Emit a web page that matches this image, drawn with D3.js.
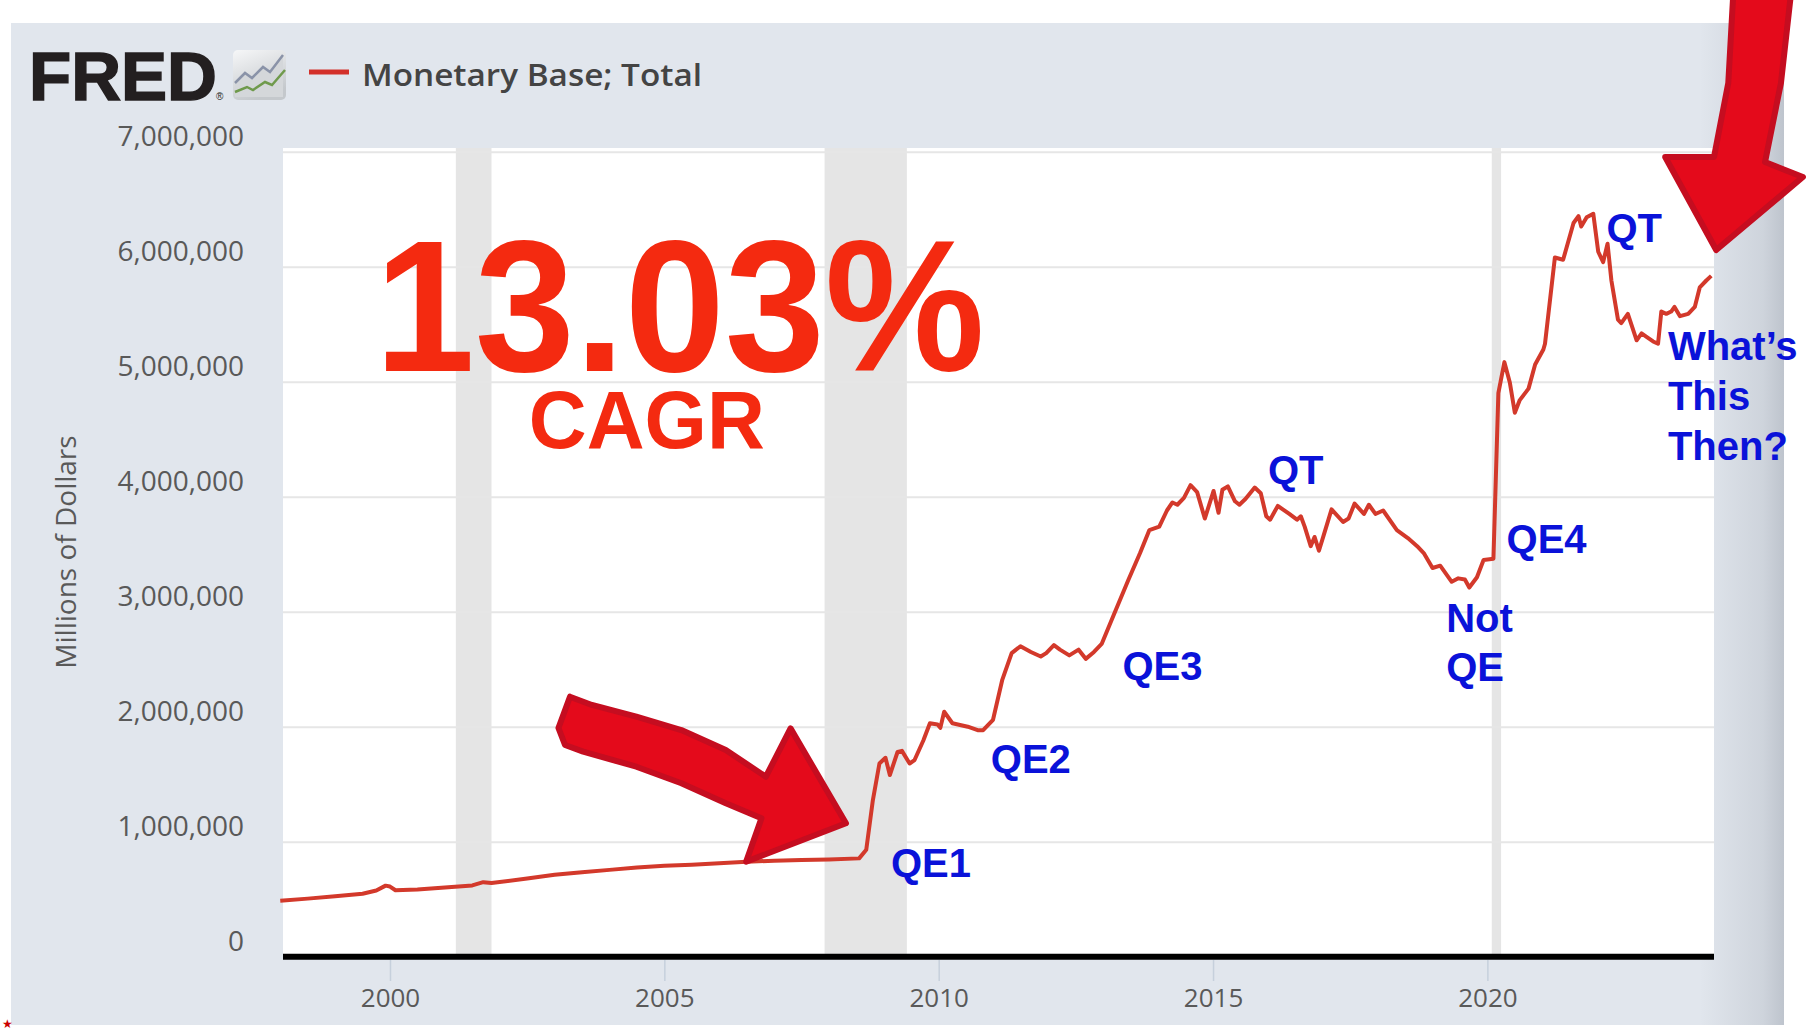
<!DOCTYPE html>
<html>
<head>
  <meta charset="utf-8">
  <title>Monetary Base; Total</title>
  <script src="https://d3js.org/d3.v7.min.js"></script>
  <style>
    body { margin: 0; background: #fff; overflow: hidden; }
    /* grey gridlines, no domain line */
    .gridlines line { stroke: #e6e6e6; stroke-width: 2; }
    .gridlines .domain { stroke: none; }
    .y.axis .domain, .x.axis .domain { stroke: none; }
    .y.axis text { font-family: "Open Sans", sans-serif; font-size: 28px; fill: #595959; }
    .x.axis text { font-family: "Open Sans", sans-serif; font-size: 26px; fill: #595959; }
    .x.axis line { stroke: #c6d0dc; stroke-width: 1.5; }
    .note { font-family: "Liberation Sans", Arial, sans-serif; font-weight: bold; }
  </style>
</head>
<body>
  <svg id="chart" width="1810" height="1030"></svg>

  <script>
    // Monetary Base; Total (millions of dollars), decimal years
    const years = [
      1998.00, 1998.50, 1999.00, 1999.50, 1999.75, 1999.92, 2000.00, 2000.10, 2000.50, 2001.00,
      2001.50, 2001.70, 2001.85, 2002.50, 2003.00, 2003.50, 2004.00, 2004.50, 2005.00, 2005.50,
      2006.00, 2006.50, 2007.00, 2007.50, 2008.00, 2008.55, 2008.68, 2008.80, 2008.92, 2009.03,
      2009.11, 2009.25, 2009.33, 2009.47, 2009.56, 2009.72, 2009.84, 2009.98, 2010.03, 2010.10,
      2010.25, 2010.53, 2010.71, 2010.81, 2010.99, 2011.16, 2011.33, 2011.49, 2011.68, 2011.86,
      2011.96, 2012.10, 2012.21, 2012.38, 2012.55, 2012.68, 2012.83, 2012.97, 2013.18, 2013.46,
      2013.67, 2013.84, 2014.02, 2014.16, 2014.26, 2014.35, 2014.47, 2014.59, 2014.71, 2014.85,
      2015.01, 2015.10, 2015.17, 2015.27, 2015.40, 2015.48, 2015.59, 2015.76, 2015.87, 2015.97,
      2016.04, 2016.18, 2016.39, 2016.53, 2016.60, 2016.67, 2016.78, 2016.85, 2016.93, 2017.02,
      2017.16, 2017.37, 2017.47, 2017.58, 2017.75, 2017.84, 2017.96, 2018.10, 2018.35, 2018.55,
      2018.72, 2018.84, 2019.00, 2019.14, 2019.35, 2019.47, 2019.59, 2019.67, 2019.81, 2019.93,
      2020.11, 2020.20, 2020.31, 2020.41, 2020.50, 2020.59, 2020.75, 2020.87, 2021.02, 2021.05,
      2021.23, 2021.38, 2021.57, 2021.66, 2021.71, 2021.81, 2021.93, 2022.02, 2022.11, 2022.19,
      2022.26, 2022.38, 2022.44, 2022.56, 2022.72, 2022.81, 2022.90, 2023.02, 2023.11, 2023.17,
      2023.26, 2023.35, 2023.41, 2023.51, 2023.66, 2023.78, 2023.87, 2023.99, 2024.08
    ];
    const base = [
      487000, 505000, 525000, 548000, 575000, 618000, 610000, 578000, 585000, 602000,
      620000, 648000, 640000, 680000, 712000, 735000, 755000, 775000, 790000, 800000,
      812000, 825000, 835000, 840000, 845000, 855000, 930000, 1360000, 1680000, 1730000,
      1580000, 1780000, 1790000, 1680000, 1710000, 1880000, 2030000, 2020000, 1990000, 2130000,
      2030000, 2000000, 1970000, 1970000, 2060000, 2410000, 2640000, 2700000, 2650000, 2610000,
      2640000, 2710000, 2670000, 2620000, 2670000, 2590000, 2650000, 2720000, 2960000, 3280000,
      3510000, 3710000, 3740000, 3880000, 3950000, 3930000, 3990000, 4100000, 4040000, 3810000,
      4050000, 3860000, 4060000, 4090000, 3960000, 3930000, 3980000, 4080000, 4030000, 3830000,
      3800000, 3920000, 3850000, 3800000, 3830000, 3740000, 3570000, 3650000, 3530000, 3670000,
      3890000, 3780000, 3810000, 3940000, 3850000, 3930000, 3850000, 3880000, 3710000, 3640000,
      3570000, 3510000, 3380000, 3400000, 3260000, 3290000, 3280000, 3210000, 3300000, 3450000,
      3460000, 4900000, 5170000, 4990000, 4730000, 4840000, 4940000, 5150000, 5280000, 5330000,
      6080000, 6060000, 6380000, 6440000, 6350000, 6430000, 6460000, 6130000, 6040000, 6200000,
      5880000, 5540000, 5510000, 5590000, 5360000, 5420000, 5390000, 5350000, 5330000, 5610000,
      5590000, 5610000, 5650000, 5570000, 5590000, 5650000, 5820000, 5880000, 5920000
    ];

    // recession shading [start, end]
    const recessions = [[2001.20, 2001.85], [2007.92, 2009.42], [2020.08, 2020.25]];

    const xTicks = [2000, 2005, 2010, 2015, 2020];
    const yTicks = [0, 1000000, 2000000, 3000000, 4000000, 5000000, 6000000, 7000000];

    // hand-drawn notes, anchored in data units [year, dollars]
    const blueNotes = [
      { text: "QE1", at: [2009.13, 696000] },
      { text: "QE2", at: [2010.95, 1595000] },
      { text: "QE3", at: [2013.35, 2406000] },
      { text: "QT", at: [2016.00, 4110000] },
      { text: "Not", at: [2019.25, 2823000] },
      { text: "QE", at: [2019.25, 2397000] },
      { text: "QE4", at: [2020.35, 3508000] },
      { text: "QT", at: [2022.17, 6217000] },
      { text: "What’s", at: [2023.29, 5189000] },
      { text: "This", at: [2023.29, 4754000] },
      { text: "Then?", at: [2023.29, 4319000] }
    ];
    const redNotes = [
      { text: "13.03%", at: [1999.72, 5093000], size: 188, len: 610 },
      { text: "CAGR", at: [2002.53, 4423000], size: 81, len: 236 }
    ];

    // marker arrows outlines [year, dollars]
    const arrowLow = [
      [2003.28, 2261000], [2003.68, 2189000], [2004.49, 2087000], [2005.31, 1971000],
      [2006.12, 1797000], [2006.85, 1565000], [2007.30, 1986000], [2008.31, 1160000],
      [2006.49, 826000], [2006.77, 1203000], [2006.12, 1334000], [2005.31, 1508000],
      [2004.49, 1652000], [2003.52, 1783000], [2003.19, 1841000], [2003.07, 1989000]
    ];
    const arrowHigh = [
      [2024.48, 8362000], [2024.39, 7597000], [2024.13, 6954000], [2023.24, 6954000],
      [2024.17, 6145000], [2025.75, 6780000], [2025.06, 6910000], [2025.35, 7597000],
      [2025.53, 8362000]
    ];

    const svg = d3.select("svg#chart");
    const margin = { top: 148, right: 96, bottom: 76, left: 283 };
    const width = +svg.attr("width");
    const height = +svg.attr("height");
    const chartWidth = width - margin.left - margin.right;
    const plotBottom = 954;

    const xScale = d3.scaleLinear().domain([1998.05, 2024.13]).range([margin.left, margin.left + chartWidth]);
    const yScale = d3.scaleLinear().domain([0, 7000000]).range([956.7, 151.7]);

    const defs = svg.append("defs");
    const shade = defs.append("linearGradient").attr("id", "edge").attr("x1", 0).attr("x2", 1);
    shade.append("stop").attr("offset", 0).attr("stop-color", "#5a6472").attr("stop-opacity", 0);
    shade.append("stop").attr("offset", 0.75).attr("stop-color", "#5a6472").attr("stop-opacity", 0.14);
    shade.append("stop").attr("offset", 1).attr("stop-color", "#5a6472").attr("stop-opacity", 0.26);
    const iconGrad = defs.append("linearGradient").attr("id", "icon").attr("x1", 0).attr("y1", 0).attr("x2", 0.4).attr("y2", 1);
    iconGrad.append("stop").attr("offset", 0).attr("stop-color", "#f6f7f8");
    iconGrad.append("stop").attr("offset", 1).attr("stop-color", "#c4c8cc");

    // grey panel
    svg.append("rect").attr("x", 11).attr("y", 23).attr("width", 1773).attr("height", 1002).attr("fill", "#e1e6ed");
    svg.append("rect").attr("x", 1700).attr("y", 23).attr("width", 84).attr("height", 1002).attr("fill", "url(#edge)");

    // plot area
    svg.append("rect").attr("x", margin.left).attr("y", margin.top)
      .attr("width", chartWidth).attr("height", plotBottom - margin.top).attr("fill", "#fff");

    svg.append("g").selectAll("rect").data(recessions).join("rect")
      .attr("x", d => xScale(d[0])).attr("y", margin.top)
      .attr("width", d => xScale(d[1]) - xScale(d[0])).attr("height", plotBottom - margin.top)
      .attr("fill", "#e5e5e5");

    svg.append("g").attr("class", "gridlines")
      .attr("transform", `translate(${margin.left},0)`)
      .call(d3.axisLeft(yScale).tickValues(yTicks.slice(1)).tickSize(-chartWidth).tickFormat(""));

    const yAxis = svg.append("g").attr("class", "y axis")
      .attr("transform", "translate(254,0)")
      .call(d3.axisLeft(yScale).tickValues(yTicks).tickSize(0).tickPadding(10).tickFormat(d3.format(",")));
    yAxis.selectAll("text").attr("dy", -6);

    svg.append("g").attr("class", "x axis")
      .attr("transform", "translate(0,960)")
      .call(d3.axisBottom(xScale).tickValues(xTicks).tickSize(21).tickPadding(8).tickFormat(d3.format("d")));

    svg.append("text")
      .attr("transform", "translate(76,552) rotate(-90)")
      .attr("text-anchor", "middle")
      .style("font-family", "Open Sans, sans-serif").style("font-size", "28px").style("fill", "#595959")
      .text("Millions of Dollars");

    // black baseline
    svg.append("line")
      .attr("x1", xScale.range()[0]).attr("x2", xScale.range()[1])
      .attr("y1", yScale(0)).attr("y2", yScale(0))
      .attr("stroke", "#000").attr("stroke-width", 6);

    // series
    const points = years.map((yr, i) => [yr, base[i]]);
    svg.append("path").datum(points)
      .attr("fill", "none").attr("stroke", "#d3392b").attr("stroke-width", 4)
      .attr("stroke-linejoin", "round")
      .attr("d", d3.line().x(d => xScale(d[0])).y(d => yScale(d[1])));

    // header: FRED logo, icon and legend
    svg.append("text").attr("x", 29).attr("y", 100)
      .attr("textLength", 188).attr("lengthAdjust", "spacingAndGlyphs")
      .style("font-family", "Liberation Sans, Arial, sans-serif").style("font-weight", "bold")
      .style("font-size", "69px").style("fill", "#231f20").style("stroke", "#231f20").style("stroke-width", 1.5)
      .text("FRED");
    svg.append("text").attr("x", 216).attr("y", 100)
      .style("font-family", "Liberation Sans, Arial, sans-serif").style("font-size", "10px").style("fill", "#231f20")
      .text("®");
    const icon = svg.append("g");
    icon.append("rect").attr("x", 233).attr("y", 50).attr("width", 53).attr("height", 50).attr("rx", 5).attr("fill", "url(#icon)");
    icon.append("path").attr("d", "M235,83 L245,73 L252,78 L263,67 L270,72 L283,55 L283,97 L235,97 Z").attr("fill", "#d4d7da");
    icon.append("path").attr("d", "M235,83 L245,73 L252,78 L263,67 L270,72 L283,55")
      .attr("fill", "none").attr("stroke", "#8a93a8").attr("stroke-width", 2.5);
    icon.append("path").attr("d", "M235,92 L247,87 L253,90 L265,82 L272,85 L285,70")
      .attr("fill", "none").attr("stroke", "#6f9a4c").attr("stroke-width", 2.5);

    svg.append("line").attr("x1", 309).attr("x2", 349).attr("y1", 72).attr("y2", 72)
      .attr("stroke", "#d3302a").attr("stroke-width", 5);
    svg.append("text").attr("x", 362).attr("y", 86)
      .attr("textLength", 340).attr("lengthAdjust", "spacingAndGlyphs")
      .style("font-family", "Open Sans, sans-serif").style("font-weight", 600)
      .style("font-size", "30px").style("fill", "#444")
      .text("Monetary Base; Total");

    // arrows
    const outline = d3.line().x(d => xScale(d[0])).y(d => yScale(d[1])).curve(d3.curveLinearClosed);
    svg.append("g").selectAll("path").data([arrowLow, arrowHigh]).join("path")
      .attr("d", outline)
      .attr("fill", "#e40a1b").attr("stroke", "#c50d20").attr("stroke-width", 6)
      .attr("stroke-linejoin", "round");

    // annotations
    svg.append("g").selectAll("text").data(redNotes).join("text")
      .attr("class", "note")
      .attr("x", d => xScale(d.at[0])).attr("y", d => yScale(d.at[1]))
      .attr("textLength", d => d.len).attr("lengthAdjust", "spacingAndGlyphs")
      .style("font-size", d => d.size + "px").style("fill", "#f42a10")
      .text(d => d.text);

    svg.append("g").selectAll("text").data(blueNotes).join("text")
      .attr("class", "note")
      .attr("x", d => xScale(d.at[0])).attr("y", d => yScale(d.at[1]))
      .style("font-size", "40px").style("fill", "#0a12d9")
      .text(d => d.text);

    svg.append("text").attr("x", 2).attr("y", 1028)
      .style("font-size", "12px").style("fill", "#c00").text("★");
  </script>
</body>
</html>
